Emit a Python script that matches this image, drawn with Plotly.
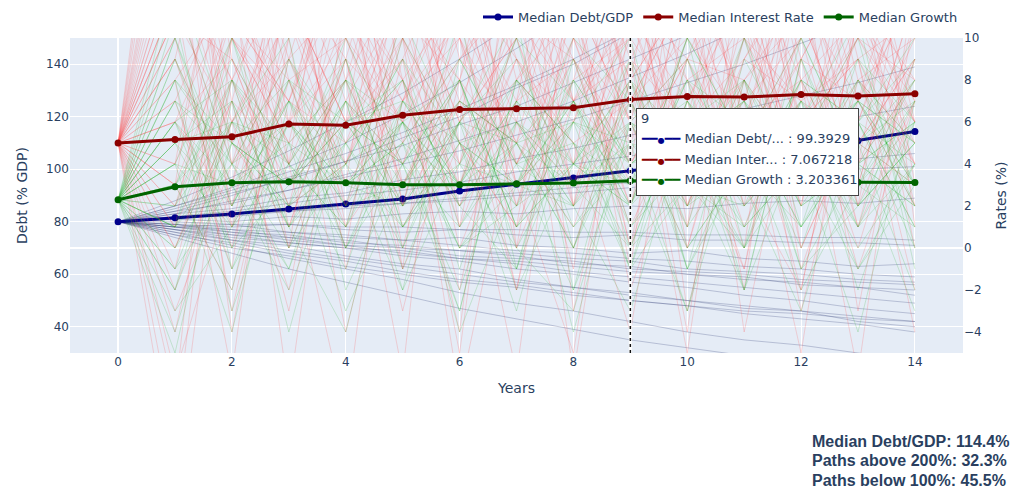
import plotly.graph_objects as go
from plotly.subplots import make_subplots

# ---------------- data ----------------
years = list(range(15))

median_debt = [80.0, 81.5, 83.0, 84.9, 86.8, 88.7, 91.7, 94.3, 96.7, 99.3929,
               102.0, 104.6, 107.6, 110.9, 114.4]
median_rate = [5.0, 5.17, 5.3, 5.9, 5.85, 6.32, 6.6, 6.63, 6.68, 7.067218,
               7.21, 7.19, 7.31, 7.24, 7.35]
median_growth = [2.3, 2.92, 3.11, 3.16, 3.11, 3.01, 3.01, 3.06, 3.09, 3.203361,
                 3.15, 3.18, 3.14, 3.13, 3.12]

paths_above_200 = 32.3
paths_below_100 = 45.5
hover_year = 9

# simulated interest-rate paths (%), right axis
rate_paths = [
    [5, 12, -3, 9, 18, 2, 7, -6, 14, 8, 21, 3, -2, 11, 6],
    [5, -4, 8, 15, 1, 10, -7, 6, 19, 4, 9, 13, -1, 7, 16],
    [5, 17, 6, -2, 11, 7, 14, 3, -5, 12, 8, 0, 18, 5, 9],
    [5, 9, 20, 4, -8, 13, 6, 10, 2, 16, -3, 8, 11, 22, 1],
    [5, 2, 11, 7, 14, -1, 19, 8, 5, -4, 12, 17, 6, 9, -2],
    [5, 22, 1, 12, 6, 9, -5, 15, 7, 11, 3, 20, 8, -6, 13],
    [5, -9, 14, 3, 8, 17, 10, -2, 12, 6, 15, -4, 9, 14, 7],
    [5, 7, -1, 18, 10, 4, 12, 21, -3, 9, 6, 11, 2, 16, 10],
    [5, 14, 8, 0, 16, 11, 2, 7, 13, -1, 18, 6, 15, 3, 12],
    [5, 1, 16, 10, -4, 7, 13, 9, 6, 14, 0, 10, 19, 8, 4],
    [5, 19, 4, 13, 9, -3, 8, 16, 10, 2, 13, 7, -5, 12, 18],
    [5, 10, 13, -7, 12, 15, 5, 1, 17, 7, 10, 14, 8, 0, 9],
    [5, -2, 6, 11, 3, 20, 9, 12, 4, 18, 7, -1, 13, 10, 15],
    [5, 15, 10, 6, 19, 8, -2, 11, 9, 5, 16, 12, 3, 17, 6],
    [5, 8, -6, 14, 7, 12, 16, 4, 11, 20, 2, 9, 14, -3, 11],
    [5, 24, 9, 2, 13, 0, 11, 18, 7, 10, -4, 15, 6, 12, 8],
    [5, 4, 18, 8, 0, 14, 7, 13, -6, 11, 17, 5, 10, 19, 3],
    [5, -6, 3, 16, 11, 6, 21, 0, 15, 8, 12, -2, 17, 7, 13],
    [5, 11, 15, 1, 9, 18, 3, 10, 12, -2, 6, 19, 4, 11, 20],
    [5, 16, -4, 10, 15, 2, 12, 7, 20, 13, 5, 8, 12, 1, 7],
    [5, 6, 12, 19, -1, 9, 15, 3, 8, 16, 11, 2, 20, 9, -4],
    [5, 20, 7, -3, 10, 16, 1, 14, 9, 4, 19, 10, 7, 15, 10],
    [5, -11, 10, 5, 17, 3, 8, 20, 2, 12, 9, 16, 0, 6, 14],
    [5, 13, 2, 12, 6, 21, 10, 5, 16, 9, -5, 13, 11, 4, 17],
    [5, 3, 19, 6, 12, 8, -4, 17, 11, 0, 14, 7, 16, 13, 2],
    [5, 18, 5, 14, 2, 11, 17, 9, -1, 15, 8, 4, 10, 18, 12],
    [5, -7, 17, 9, 4, 13, 6, 19, 14, 6, 20, 11, -3, 8, 5],
    [5, 26, 11, 7, 16, 5, 13, 2, 10, 17, 1, 18, 9, 14, 11],
    [5, 0, 7, 17, 8, -6, 18, 11, 3, 10, 15, 6, 14, 2, 16],
    [5, 12, 14, 4, 20, 10, 4, 15, 18, 7, 12, 21, 5, 10, 8],
    [5, 9, 3, 12, 6, 10, 1, 8, 13, 5, 11, 4, 9, 7, 12],
    [5, 1, 7, 4, 11, 3, 9, 6, 0, 8, 2, 10, 5, 12, 6],
    [5, 11, 6, 9, 2, 8, 12, 4, 9, 1, 7, 13, 3, 8, 10],
    [5, -1, 10, 5, 8, 13, 4, 11, 7, 9, 3, 6, 12, 2, 9],
    [5, 8, 12, 0, 7, 4, 10, 2, 12, 6, 9, 1, 8, 11, 4],
    [5, 3, -2, 8, 10, 6, 2, 9, 4, 11, 7, 12, 0, 6, 13],
    [5, 12, 4, 7, 13, 1, 6, 10, 3, 8, 12, 5, 9, -1, 7],
    [5, 6, 9, 2, 4, 11, 8, -2, 10, 3, 6, 9, 13, 5, 3],
    [5, 10, 0, 11, 5, 9, 3, 12, 7, 13, 2, 8, 4, 10, 6],
    [5, 2, 8, 13, 3, 7, 11, 5, 1, 9, 14, 3, 7, 9, 11],
    [5, 7, 13, 6, 9, -1, 5, 8, 11, 4, 8, 10, 2, 13, 0],
    [5, -3, 4, 9, 12, 7, 10, 3, 6, 12, 5, -1, 11, 4, 8],
    [5, 13, 8, 3, 6, 12, 0, 7, 9, 2, 10, 6, 8, 3, 12],
    [5, 4, 11, 8, 1, 5, 9, 13, 2, 7, 1, 11, 6, 10, 5],
    [5, 9, 1, 6, 10, 3, 7, 5, 12, 0, 9, 4, 12, 7, 2],
    [5, 0, 6, 12, 4, 10, 5, 1, 8, 10, 6, 13, 3, 5, 9],
    [5, 11, 9, 4, 8, 2, 13, 6, 3, 11, 4, 7, 10, 1, 11],
    [5, 6, 2, 10, 13, 8, 3, 9, 5, 7, 12, 2, 6, 9, 4],
    [5, 14, 5, 1, 9, 6, 11, 0, 7, 4, 9, 8, -2, 11, 7],
    [5, 3, 10, 7, 5, 12, 8, 4, 10, 6, 0, 9, 7, 4, 10],
]

# simulated growth paths (%), right axis
growth_paths = [
    [2.3, 6, -1, 4, 9, 1, 5, -3, 7, 3, 10, 0, 4, 8, 2],
    [2.3, -2, 5, 8, 0, 6, -4, 3, 9, 1, 5, 7, -1, 4, 8],
    [2.3, 9, 3, -1, 6, 4, 8, 0, -3, 6, 4, -2, 9, 2, 5],
    [2.3, 4, 10, 1, -4, 7, 3, 5, 0, 8, -1, 4, 6, 11, -1],
    [2.3, 0, 6, 3, 7, -2, 9, 4, 2, -3, 6, 8, 3, 5, -2],
    [2.3, 11, -1, 6, 3, 5, -3, 8, 4, 6, 1, 10, 4, -4, 7],
    [2.3, -5, 7, 1, 4, 9, 5, -1, 6, 3, 8, -2, 5, 7, 3],
    [2.3, 3, -2, 9, 5, 1, 6, 11, -2, 5, 3, 6, 0, 8, 5],
    [2.3, 7, 4, -1, 8, 6, 0, 3, 7, -1, 9, 3, 7, 1, 6],
    [2.3, 1, 8, 5, -3, 3, 7, 5, 3, 7, -1, 5, 10, 4, 2],
    [2.3, 10, 2, 7, 4, -2, 4, 8, 5, 0, 7, 3, -3, 6, 9],
    [2.3, 5, 7, -4, 6, 8, 2, -1, 9, 4, 5, 7, 4, -1, 4],
    [2.3, -1, 3, 6, 1, 10, 5, 6, 2, 9, 3, 0, 7, 5, 8],
    [2.3, 8, 5, 3, 10, 4, -2, 6, 4, 2, 8, 6, 1, 9, 3],
    [2.3, 4, -4, 7, 3, 6, 8, 1, 6, 10, 0, 4, 7, -2, 6],
    [2.3, 12, 4, 0, 7, -1, 6, 9, 3, 5, -3, 8, 2, 6, 4],
    [2.3, 2, 9, 4, -1, 7, 3, 7, -4, 6, 9, 2, 5, 10, 0],
    [2.3, -3, 1, 8, 6, 2, 11, -1, 8, 4, 6, -2, 9, 3, 7],
    [2.3, 6, 8, 0, 4, 9, 1, 5, 6, -1, 3, 10, 1, 6, 10],
    [2.3, 8, -3, 5, 8, 0, 6, 3, 10, 7, 2, 4, 6, -1, 3],
    [2.3, 3, 6, 10, -2, 4, 8, 1, 4, 8, 5, 0, 10, 4, -3],
    [2.3, 10, 3, -2, 5, 8, -1, 7, 4, 2, 10, 5, 3, 7, 5],
    [2.3, -4, 5, 2, 9, 1, 4, 10, 0, 6, 4, 8, -1, 2, 7],
    [2.3, 7, 0, 6, 2, 11, 5, 2, 8, 4, -3, 6, 5, 1, 9],
    [2.3, 1, 10, 3, 6, 4, -3, 8, 5, -1, 7, 3, 8, 6, 0],
    [2.3, 9, 2, 7, 0, 5, 9, 4, -2, 8, 3, 1, 4, 9, 6],
    [2.3, -2, 8, 4, 1, 6, 3, 10, 7, 2, 10, 5, -2, 3, 1],
    [2.3, 13, 5, 3, 8, 2, 6, -2, 4, 9, -1, 9, 4, 7, 5],
    [2.3, 4, 1, 6, 3, 5, 0, 4, 7, 2, 5, 3, 6, 1, 4],
    [2.3, 1, 5, 2, 7, 3, 6, 2, 4, 8, 1, 5, 3, 7, 2],
    [2.3, 6, 3, 5, 0, 4, 7, 5, 1, 4, 6, 2, 8, 3, 6],
    [2.3, 3, 7, 1, 5, 8, 2, 6, 3, 0, 7, 4, 1, 5, 7],
    [2.3, 5, 2, 8, 4, 1, 5, 3, 6, 5, 2, 8, 4, 6, 1],
    [2.3, 0, 4, 6, 2, 6, 3, 8, 1, 5, 4, 0, 6, 2, 5],
    [2.3, 7, 5, 3, 6, 2, 4, 0, 5, 3, 6, 5, 3, 8, 3],
    [2.3, 2, 6, 4, 1, 7, 5, 3, 7, 1, 4, 7, 2, 4, 6],
    [2.3, 5, 0, 3, 7, 4, 1, 6, 2, 6, 3, 2, 5, 0, 4],
    [2.3, 8, 4, 2, 5, 0, 7, 4, 5, 2, 8, 3, 6, 4, 2],
    [2.3, -1, 6, 5, 3, 6, 2, 5, 0, 7, 2, 6, 1, 5, 3],
    [2.3, 4, 3, 7, 2, 3, 8, 1, 4, 3, 5, 1, 7, 3, 8],
    [2.3, 6, 1, 4, 8, 5, 3, 7, 3, 6, 0, 4, 5, 2, 5],
    [2.3, 3, 8, 2, 4, 6, 0, 2, 6, 4, 6, 3, 8, 6, 1],
    [2.3, 1, 4, 9, 3, 2, 6, 5, 8, 0, 3, 7, 2, 4, 6],
    [2.3, 5, 6, 1, 6, 7, 4, 3, 2, 5, 7, 1, 4, 7, 3],
]

# simulated debt paths (% GDP), left axis
debt_paths = [
    [80, 84, 90, 97, 103, 112, 120, 131, 140, 152, 165, 176, 190, 204, 219],
    [80, 77, 73, 71, 67, 64, 62, 58, 55, 53, 50, 47, 46, 42, 40],
    [80, 83, 85, 89, 91, 96, 99, 104, 108, 113, 117, 123, 128, 133, 139],
    [80, 78, 75, 74, 71, 70, 67, 66, 65, 62, 61, 60, 58, 57, 56],
    [80, 86, 93, 101, 110, 121, 133, 146, 160, 176, 193, 211, 230, 251, 274],
    [80, 79, 78, 79, 77, 76, 77, 75, 74, 75, 73, 73, 72, 72, 71],
    [80, 76, 71, 66, 62, 58, 53, 49, 46, 42, 38, 35, 33, 30, 27],
    [80, 82, 84, 87, 90, 92, 95, 99, 102, 105, 109, 112, 116, 120, 124],
    [80, 81, 80, 82, 81, 83, 84, 83, 85, 86, 85, 87, 88, 87, 89],
    [80, 85, 91, 96, 103, 109, 117, 124, 133, 142, 151, 161, 172, 183, 195],
    [80, 78, 77, 74, 73, 70, 69, 67, 64, 63, 60, 59, 56, 55, 52],
    [80, 75, 70, 67, 63, 60, 57, 55, 52, 50, 48, 46, 45, 43, 42],
    [80, 84, 87, 92, 97, 102, 107, 113, 119, 126, 133, 140, 148, 156, 165],
    [80, 79, 77, 76, 74, 73, 71, 69, 68, 66, 65, 63, 62, 60, 59],
    [80, 88, 97, 107, 118, 129, 142, 156, 171, 187, 204, 223, 243, 264, 287],
    [80, 77, 75, 72, 70, 67, 65, 62, 60, 57, 55, 52, 50, 47, 45],
    [80, 82, 82, 84, 85, 87, 88, 90, 91, 93, 95, 96, 98, 100, 101],
    [80, 74, 68, 62, 57, 52, 47, 43, 39, 35, 32, 29, 26, 23, 21],
    [80, 83, 88, 92, 98, 104, 111, 118, 126, 135, 144, 154, 164, 176, 188],
    [80, 80, 79, 79, 78, 78, 77, 77, 76, 76, 75, 75, 74, 74, 73],
    [80, 86, 92, 99, 106, 114, 123, 132, 142, 153, 165, 178, 192, 207, 223],
    [80, 78, 76, 73, 71, 68, 66, 64, 61, 59, 57, 55, 53, 51, 49],
    [80, 81, 83, 84, 86, 87, 89, 91, 93, 95, 97, 99, 101, 104, 106],
    [80, 76, 73, 69, 66, 63, 60, 57, 55, 52, 50, 48, 46, 44, 42],
    [80, 78, 79, 76, 75, 73, 74, 71, 70, 68, 69, 66, 65, 63, 64],
    [80, 77, 74, 72, 70, 69, 66, 65, 63, 61, 60, 58, 57, 55, 54],
    [80, 79, 76, 75, 72, 71, 69, 68, 66, 65, 62, 61, 60, 58, 57],
    [80, 75, 72, 68, 65, 61, 58, 56, 53, 50, 48, 45, 43, 41, 38],
]

# ---------------- styles ----------------
FONT = "DejaVu Sans, Verdana, sans-serif"
TXT = "#2a3f5f"
C_DEBT = "#00008b"
C_RATE = "#8b0000"
C_GROW = "#006400"

fig = make_subplots(specs=[[{"secondary_y": True}]])

for p in debt_paths:
    fig.add_trace(go.Scatter(x=years, y=p, mode="lines",
                             line=dict(color="rgba(40,50,110,0.25)", width=1),
                             showlegend=False, hoverinfo="skip"), secondary_y=False)

fig.add_trace(go.Scatter(x=years, y=median_debt, mode="lines+markers", name="Median Debt/GDP",
                         line=dict(color=C_DEBT, width=3), marker=dict(size=7, color=C_DEBT)),
              secondary_y=False)

for p in rate_paths:
    fig.add_trace(go.Scatter(x=years, y=p, mode="lines",
                             line=dict(color="rgba(255,70,70,0.2)", width=1),
                             showlegend=False, hoverinfo="skip"), secondary_y=True)
for p in growth_paths:
    fig.add_trace(go.Scatter(x=years, y=p, mode="lines",
                             line=dict(color="rgba(30,170,30,0.18)", width=1),
                             showlegend=False, hoverinfo="skip"), secondary_y=True)

fig.add_trace(go.Scatter(x=years, y=median_rate, mode="lines+markers", name="Median Interest Rate",
                         line=dict(color=C_RATE, width=3), marker=dict(size=7, color=C_RATE)),
              secondary_y=True)
fig.add_trace(go.Scatter(x=years, y=median_growth, mode="lines+markers", name="Median Growth",
                         line=dict(color=C_GROW, width=3), marker=dict(size=7, color=C_GROW)),
              secondary_y=True)

# spike line at hovered year
fig.add_shape(type="line", xref="x", yref="paper", x0=hover_year, x1=hover_year, y0=0, y1=1,
              line=dict(color="white", width=3), layer="above")
fig.add_shape(type="line", xref="x", yref="paper", x0=hover_year, x1=hover_year, y0=0, y1=1,
              line=dict(color="#111111", width=1.5, dash="dot"), layer="above")

# static unified hover box
box_top = 0.778
fig.add_annotation(x=hover_year, xref="x", y=box_top, yref="paper", xanchor="left", yanchor="top",
                   xshift=6, text=" ", width=221, height=86, bgcolor="white",
                   bordercolor="#444444", borderwidth=1, borderpad=0, showarrow=False)
fig.add_annotation(x=hover_year, xref="x", y=box_top, yref="paper", xanchor="left", yanchor="middle",
                   xshift=9, yshift=-11, text=str(hover_year), showarrow=False,
                   font=dict(family=FONT, size=13, color=TXT))
rows = [
    (C_DEBT, "Median Debt/...", median_debt[hover_year]),
    (C_RATE, "Median Inter...", median_rate[hover_year]),
    (C_GROW, "Median Growth", median_growth[hover_year]),
]
for i, (col, nm, val) in enumerate(rows):
    dy = -(31 + 20.5 * i)
    fig.add_annotation(x=hover_year, xref="x", y=box_top, yref="paper", xanchor="left",
                       yanchor="middle", xshift=9, yshift=dy, showarrow=False,
                       text=(f"<span style='color:{col}'>━━</span>"
                             f"<span style='color:{col};font-size:8px'>●</span>"
                             f"<span style='color:{col}'>━━</span> {nm} : {val}"),
                       font=dict(family=FONT, size=13, color=TXT))

# summary text, one line per annotation
summary_lines = [
    f"Median Debt/GDP: {median_debt[-1]:.1f}%",
    f"Paths above 200%: {paths_above_200:.1f}%",
    f"Paths below 100%: {paths_below_100:.1f}%",
]
for i, line in enumerate(summary_lines):
    fig.add_annotation(x=0.8285, y=-0.2794, xref="paper", yref="paper", xanchor="left",
                       yanchor="middle", yshift=-19.5 * i, align="left", showarrow=False,
                       text=f"<b>{line}</b>",
                       font=dict(family="Liberation Sans, Arial, sans-serif", size=16,
                                 color="#2a3f5f"))

fig.update_layout(
    template="plotly",
    width=1010, height=483,
    margin=dict(l=62, r=55, t=30, b=138, autoexpand=False),
    font=dict(family=FONT, size=12, color=TXT),
    hovermode=False,
    legend=dict(orientation="h", x=1, xanchor="right", y=1.019, yanchor="bottom",
                font=dict(size=13), bgcolor="rgba(0,0,0,0)"),
)
fig.update_xaxes(title_text="Years", range=[-0.845, 14.845], dtick=2, tick0=0, domain=[0, 1])
fig.update_yaxes(title_text="Debt (% GDP)", range=[30, 150], dtick=20, secondary_y=False)
fig.update_yaxes(title_text="Rates (%)", range=[-5, 10], dtick=2, tick0=0, showgrid=False,
                 secondary_y=True)

fig.write_html("out.html")
